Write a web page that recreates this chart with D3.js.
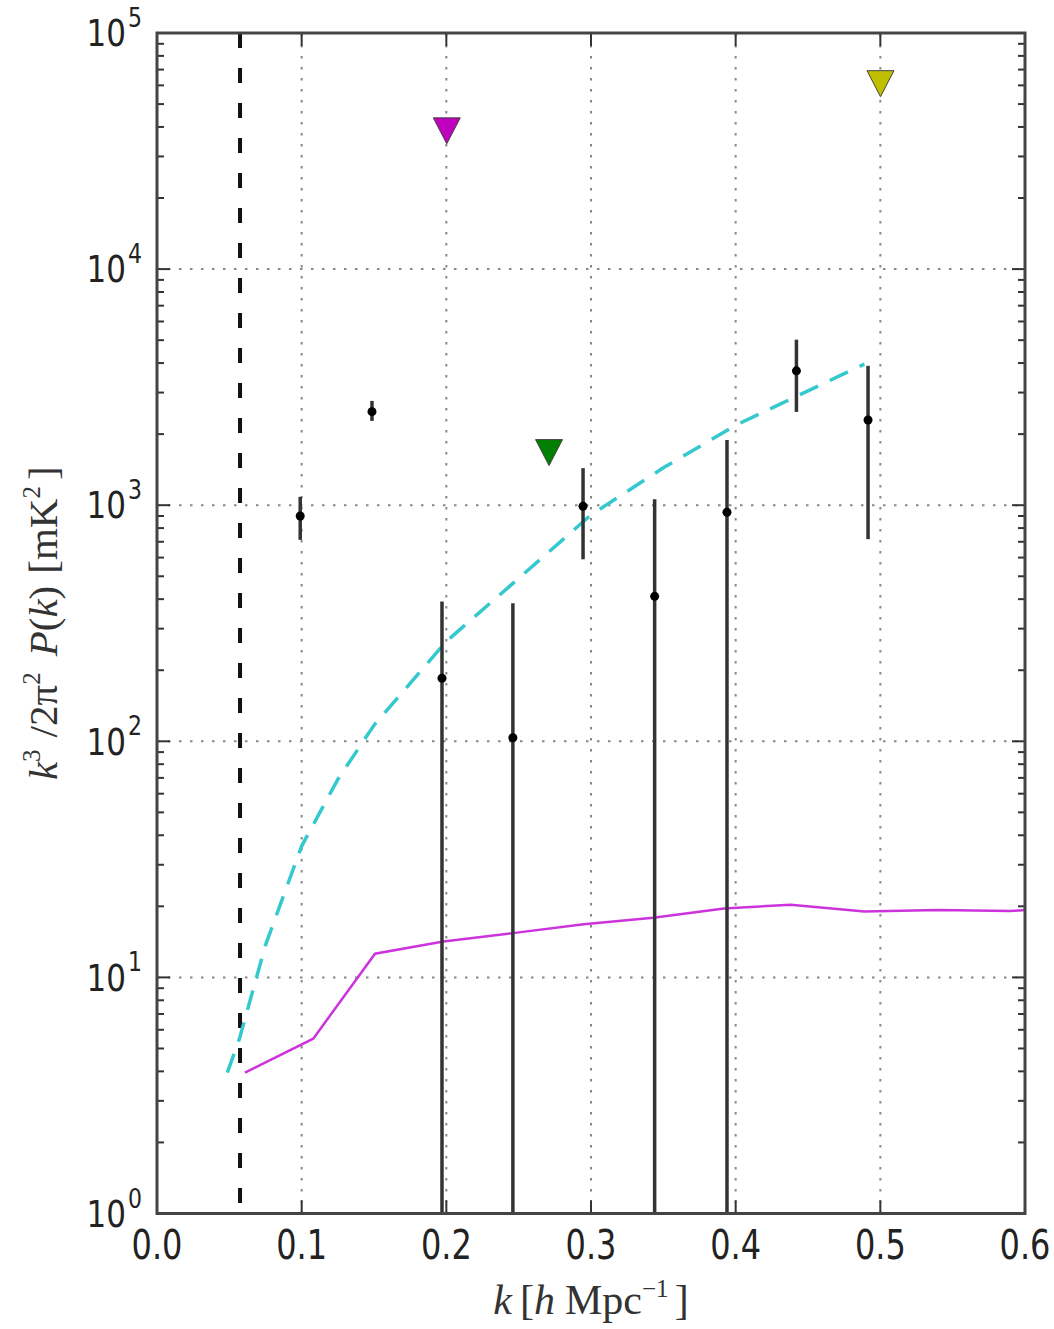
<!DOCTYPE html>
<html>
<head>
<meta charset="utf-8">
<script src="https://cdn.jsdelivr.net/npm/d3@7"></script>
<style>
  body { margin: 0; background: #fff; }
  .tick-label { font-family: "DejaVu Sans", sans-serif; fill: #222; }
  .axis-label { font-family: "Liberation Serif", "DejaVu Serif", serif; fill: #333; }
</style>
</head>
<body>
<div id="chart"></div>
<script>
// measured power spectrum points (k, value, error bar top / bottom; 0 = runs below the axis)
var pointK = [0.099, 0.1486, 0.197, 0.246, 0.2945, 0.344, 0.394, 0.442, 0.4915];
var pointV = [900, 2490, 185, 103.5, 990, 411, 934, 3707, 2296];
var pointHi = [1085, 2765, 391, 384, 1435, 1060, 1888, 5024, 3894];
var pointLo = [713, 2275, 0, 0, 590, 0, 0, 2484, 718];

// upper limits (triangles)
var limitK = [0.2003, 0.271, 0.5001];
var limitV = [38500, 1670, 61000];
var limitColors = ["#bf00bf", "#007f00", "#bfbf00"];

// cyan dashed model curve
var modelK = [0.0486, 0.057, 0.075, 0.1, 0.125, 0.15, 0.2, 0.25, 0.3, 0.35, 0.4, 0.45, 0.489];
var modelV = [3.95, 5.5, 13.7, 36, 69, 117, 265, 490, 910, 1440, 2180, 3050, 3960];

// magenta noise curve
var noiseK = [0.0608, 0.108, 0.1507, 0.198, 0.246, 0.295, 0.343, 0.392, 0.438, 0.489, 0.54, 0.59, 0.6];
var noiseV = [3.95, 5.5, 12.6, 14.2, 15.4, 16.8, 17.9, 19.6, 20.3, 19.0, 19.3, 19.1, 19.3];

// vertical dashed limit
var kMin = 0.0574;

var xTicks = [0, 0.1, 0.2, 0.3, 0.4, 0.5, 0.6];
var xTickLabels = ["0.0", "0.1", "0.2", "0.3", "0.4", "0.5", "0.6"];
var yTickExp = [0, 1, 2, 3, 4, 5];

function PowerSpectrum() {
    var self = this;

    this.width = 1054;
    this.height = 1329;
    this.margin = {top: 33, right: 29, bottom: 117, left: 157};
    this.c_width = this.width - this.margin.left - this.margin.right;
    this.c_height = this.height - this.margin.top - this.margin.bottom + 1.5;

    this.draw = function(div_id) {
        this.svg = d3.select(div_id).append("svg")
            .attr("width", this.width)
            .attr("height", this.height);

        this.x = d3.scaleLinear().domain([0, 0.6]).range([this.margin.left, this.margin.left + this.c_width]);
        this.y = d3.scaleLog().domain([1, 1e5]).range([this.margin.top + this.c_height, this.margin.top]);

        var x = this.x, y = this.y;
        var x0 = x.range()[0], x1 = x.range()[1], y0 = y.range()[0], y1 = y.range()[1];

        this.svg.append("clipPath").attr("id", "plotclip")
            .append("rect")
            .attr("x", x0).attr("y", y1)
            .attr("width", x1 - x0).attr("height", y0 - y1);

        /* GRID */
        var grid = this.svg.append("g").attr("class", "grid");
        grid.selectAll(".gx")
            .data(xTicks.slice(1, -1))
            .enter().append("line")
            .attr("x1", function(d) { return x(d); })
            .attr("x2", function(d) { return x(d); })
            .attr("y1", y0).attr("y2", y1)
            .attr("stroke", "#888").attr("stroke-width", 2)
            .attr("stroke-dasharray", "2.5,8.5");
        grid.selectAll(".gy")
            .data(yTickExp.slice(1, -1))
            .enter().append("line")
            .attr("x1", x0).attr("x2", x1)
            .attr("y1", function(d) { return y(Math.pow(10, d)); })
            .attr("y2", function(d) { return y(Math.pow(10, d)); })
            .attr("stroke", "#888").attr("stroke-width", 2)
            .attr("stroke-dasharray", "2.5,8.5");

        var plot = this.svg.append("g").attr("clip-path", "url(#plotclip)");

        /* vertical k limit */
        plot.append("line")
            .attr("x1", x(kMin)).attr("x2", x(kMin))
            .attr("y1", y1).attr("y2", y0)
            .attr("stroke", "#111").attr("stroke-width", 4)
            .attr("stroke-dasharray", "15,20");

        /* model curve */
        var line = d3.line()
            .x(function(d) { return x(d[0]); })
            .y(function(d) { return y(d[1]); });

        plot.append("path")
            .datum(d3.zip(modelK, modelV))
            .attr("d", line)
            .attr("fill", "none")
            .attr("stroke", "#33c9cf").attr("stroke-width", 3.5)
            .attr("stroke-dasharray", "20,13");

        /* noise curve */
        plot.append("path")
            .datum(d3.zip(noiseK, noiseV))
            .attr("d", line)
            .attr("fill", "none")
            .attr("stroke", "#cc33dd").attr("stroke-width", 2.5);

        /* error bars */
        var pts = d3.range(pointK.length).map(function(i) {
            return {k: pointK[i], v: pointV[i], hi: pointHi[i], lo: pointLo[i]};
        });
        plot.selectAll(".err")
            .data(pts)
            .enter().append("line")
            .attr("x1", function(d) { return x(d.k); })
            .attr("x2", function(d) { return x(d.k); })
            .attr("y1", function(d) { return y(d.hi); })
            .attr("y2", function(d) { return d.lo > 0 ? y(d.lo) : y0 + 5; })
            .attr("stroke", "#333").attr("stroke-width", 3.5);
        plot.selectAll(".pt")
            .data(pts)
            .enter().append("circle")
            .attr("cx", function(d) { return x(d.k); })
            .attr("cy", function(d) { return y(d.v); })
            .attr("r", 4.5)
            .attr("fill", "#000");

        /* upper limit triangles */
        var tri = "M-13.5,-13L13.5,-13L0,13Z";
        plot.selectAll(".lim")
            .data(d3.range(limitK.length))
            .enter().append("path")
            .attr("d", tri)
            .attr("transform", function(i) { return "translate(" + x(limitK[i]) + "," + y(limitV[i]) + ")"; })
            .attr("fill", function(i) { return limitColors[i]; })
            .attr("stroke", "#444").attr("stroke-width", 1);

        /* TICKS */
        var ticks = this.svg.append("g").attr("stroke", "#333").attr("stroke-width", 2);
        xTicks.slice(1, -1).forEach(function(t) {
            ticks.append("line").attr("x1", x(t)).attr("x2", x(t)).attr("y1", y0).attr("y2", y0 - 13);
            ticks.append("line").attr("x1", x(t)).attr("x2", x(t)).attr("y1", y1).attr("y2", y1 + 13);
        });
        yTickExp.forEach(function(e) {
            var yy = y(Math.pow(10, e));
            ticks.append("line").attr("x1", x0).attr("x2", x0 + 13).attr("y1", yy).attr("y2", yy);
            ticks.append("line").attr("x1", x1).attr("x2", x1 - 13).attr("y1", yy).attr("y2", yy);
            if (e < 5) {
                for (var m = 2; m < 10; m++) {
                    var ym = y(m * Math.pow(10, e));
                    ticks.append("line").attr("x1", x0).attr("x2", x0 + 7).attr("y1", ym).attr("y2", ym);
                    ticks.append("line").attr("x1", x1).attr("x2", x1 - 7).attr("y1", ym).attr("y2", ym);
                }
            }
        });

        /* FRAME */
        this.svg.append("rect")
            .attr("x", x0).attr("y", y1)
            .attr("width", x1 - x0).attr("height", y0 - y1)
            .attr("fill", "none")
            .attr("stroke", "#444").attr("stroke-width", 3);

        /* TICK LABELS (glyphs in the original are a bit taller than wide) */
        this.svg.selectAll(".xl")
            .data(xTicks)
            .enter().append("g")
            .attr("transform", function(d) { return "translate(" + x(d) + "," + (y0 + 45) + ") scale(1,1.25)"; })
            .append("text")
            .attr("class", "tick-label")
            .attr("text-anchor", "middle")
            .style("font-size", "32px")
            .text(function(d, i) { return xTickLabels[i]; });

        var yl = this.svg.selectAll(".yl")
            .data(yTickExp)
            .enter().append("g")
            .attr("transform", function(d) { return "translate(0," + y(Math.pow(10, d)) + ") scale(1,1.2)"; });
        yl.append("text")
            .attr("class", "tick-label")
            .attr("x", x0 - 31)
            .attr("y", 11)
            .attr("text-anchor", "end")
            .style("font-size", "31px")
            .text("10");
        yl.append("text")
            .attr("class", "tick-label")
            .attr("x", x0 - 29)
            .attr("y", -5)
            .style("font-size", "22px")
            .text(function(d) { return d; });

        /* AXIS LABELS */
        var xlab = this.svg.append("text")
            .attr("class", "axis-label")
            .attr("x", (x0 + x1) / 2)
            .attr("y", 1314)
            .attr("text-anchor", "middle")
            .style("font-size", "42px");
        xlab.append("tspan").style("font-style", "italic").text("k");
        xlab.append("tspan").attr("dx", 8).text("[");
        xlab.append("tspan").style("font-style", "italic").text("h");
        xlab.append("tspan").attr("dx", 10).text("Mpc");
        xlab.append("tspan").attr("dy", -17).style("font-size", "25px").text("\u22121");
        xlab.append("tspan").attr("dy", 17).attr("dx", 6).text("]");

        var ylab = this.svg.append("text")
            .attr("class", "axis-label")
            .attr("transform", "translate(57," + ((y0 + y1) / 2) + ") rotate(-90)")
            .attr("text-anchor", "middle")
            .style("font-size", "41px");
        ylab.append("tspan").style("font-style", "italic").text("k");
        ylab.append("tspan").attr("dy", -17).style("font-size", "25px").text("3");
        ylab.append("tspan").attr("dy", 17).attr("dx", 12).text("/2\u03c0");
        ylab.append("tspan").attr("dy", -17).style("font-size", "25px").text("2");
        ylab.append("tspan").attr("dy", 17).attr("dx", 16).style("font-style", "italic").text("P");
        ylab.append("tspan").text("(");
        ylab.append("tspan").style("font-style", "italic").text("k");
        ylab.append("tspan").text(")");
        ylab.append("tspan").attr("dx", 12).text("[mK");
        ylab.append("tspan").attr("dy", -17).style("font-size", "25px").text("2");
        ylab.append("tspan").attr("dy", 17).attr("dx", 6).text("]");
    };
}

var chart = new PowerSpectrum();
chart.draw("#chart");
</script>
</body>
</html>
